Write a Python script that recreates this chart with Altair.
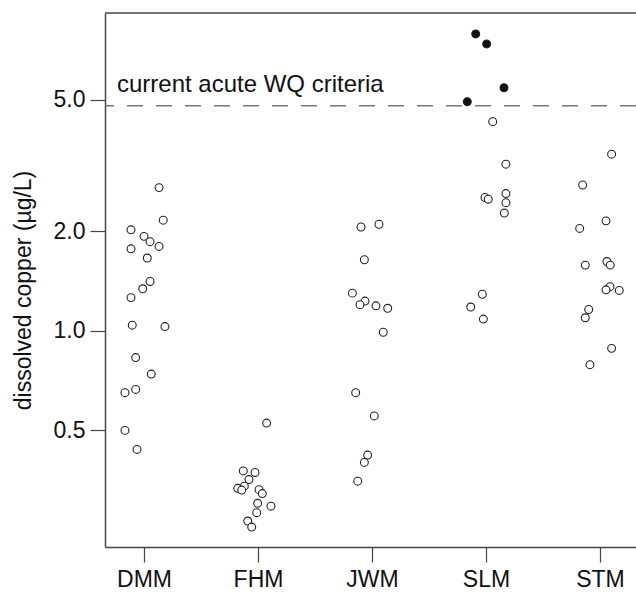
import altair as alt
import pandas as pd

sites = ["DMM", "FHM", "JWM", "SLM", "STM"]

dmm_vals = [2.71, 2.16, 2.02, 1.93, 1.86, 1.80, 1.77, 1.66, 1.41, 1.34, 1.26, 1.04, 1.03, 0.83, 0.74, 0.65, 0.665, 0.50, 0.438]
dmm_jit = [0.132, 0.169, -0.114, 0.0, 0.053, 0.132, -0.114, 0.029, 0.053, -0.011, -0.114, -0.103, 0.184, -0.073, 0.064, -0.167, -0.073, -0.167, -0.061]

fhm_vals = [0.526, 0.377, 0.373, 0.355, 0.339, 0.334, 0.330, 0.331, 0.322, 0.301, 0.295, 0.282, 0.266, 0.255]
fhm_jit = [0.076, -0.129, -0.026, -0.079, -0.120, -0.178, -0.143, 0.009, 0.038, -0.003, 0.114, -0.011, -0.090, -0.055]

jwm_vals = [2.06, 2.10, 1.64, 1.30, 1.23, 1.20, 1.19, 1.17, 0.99, 0.65, 0.553, 0.421, 0.400, 0.351]
jwm_jit = [-0.096, 0.061, -0.067, -0.172, -0.061, -0.105, 0.035, 0.138, 0.099, -0.143, 0.020, -0.038, -0.067, -0.125]

slm_vals = [7.90, 7.37, 5.43, 4.93, 4.29, 3.19, 2.53, 2.50, 2.60, 2.44, 2.27, 1.29, 1.18, 1.085]
slm_jit = [-0.090, 0.006, 0.158, -0.164, 0.059, 0.175, -0.009, 0.020, 0.175, 0.175, 0.161, -0.032, -0.134, -0.023]

stm_vals = [3.42, 2.76, 2.15, 2.04, 1.58, 1.62, 1.58, 1.36, 1.33, 1.325, 1.16, 1.095, 0.885, 0.79]
stm_jit = [0.102, -0.152, 0.053, -0.178, -0.129, 0.061, 0.090, 0.088, 0.053, 0.169, -0.099, -0.129, 0.102, -0.088]

criteria = 4.79
criteria_label = "current acute WQ criteria"
y_ticks = [0.5, 1.0, 2.0, 5.0]
y_domain = [0.222, 9.14]
x_domain = [-0.342, 4.316]

rows = []
for i, (vals, jit) in enumerate([(dmm_vals, dmm_jit), (fhm_vals, fhm_jit), (jwm_vals, jwm_jit),
                                  (slm_vals, slm_jit), (stm_vals, stm_jit)]):
    for v, j in zip(vals, jit):
        rows.append({"site": sites[i], "pos": i + j, "copper": v, "over": v > criteria})
df = pd.DataFrame(rows)

FONT = "Liberation Sans"
label_expr = "[" + ",".join(f"'{s}'" for s in sites) + "][datum.value]"

xscale = alt.Scale(domain=x_domain, nice=False, zero=False)
yscale = alt.Scale(type="log", domain=y_domain, nice=False)

x_axis = alt.Axis(values=list(range(len(sites))), labelExpr=label_expr, title=None, grid=False,
                  tickSize=15, labelPadding=6, labelFontSize=23, labelFont=FONT, labelColor="#111",
                  domainColor="#444", tickColor="#444", domainWidth=1.5, tickWidth=1.2)
y_axis = alt.Axis(values=y_ticks, format=".1f", title="dissolved copper (µg/L)", grid=False,
                  tickSize=15, labelPadding=5, labelFontSize=23, labelFont=FONT, labelColor="#111",
                  titleFont=FONT, titleFontSize=23, titleFontWeight="normal", titleColor="#111",
                  titleX=-82, titleY=277, titleBaseline="middle", titleAngle=270,
                  domainColor="#444", tickColor="#444", domainWidth=1.5, tickWidth=1.2)

points = alt.Chart(df).mark_point(shape="circle", size=62, strokeWidth=1.1, opacity=1).encode(
    x=alt.X("pos:Q", scale=xscale, axis=x_axis),
    y=alt.Y("copper:Q", scale=yscale, axis=y_axis),
    fill=alt.condition("datum.over", alt.value("#111"), alt.value("white")),
    stroke=alt.value("#222"),
)

crit_df = pd.DataFrame({"y": [criteria], "label": [criteria_label], "x": [-0.237]})
crit_line = alt.Chart(crit_df).mark_rule(color="#777", strokeWidth=1.4, strokeDash=[16, 13]).encode(
    y=alt.Y("y:Q", scale=yscale)
)
crit_text = alt.Chart(crit_df).mark_text(align="left", baseline="alphabetic", dy=-14, fontSize=24,
                                         font=FONT, color="#111").encode(
    x=alt.X("x:Q", scale=xscale), y=alt.Y("y:Q", scale=yscale), text="label:N"
)

top_df = pd.DataFrame({"y": [y_domain[1]]})
top_line = alt.Chart(top_df).mark_rule(color="#444", strokeWidth=1.5).encode(
    y=alt.Y("y:Q", scale=yscale)
)

chart = alt.layer(crit_line, top_line, points, crit_text).properties(
    width=531, height=534,
    autosize=alt.AutoSizeParams(type="none"),
    padding={"left": 105, "top": 13, "right": 0, "bottom": 47},
    background="white",
).configure_view(stroke=None)

chart.save("out.html", embed_options={"renderer": "svg", "actions": False})
